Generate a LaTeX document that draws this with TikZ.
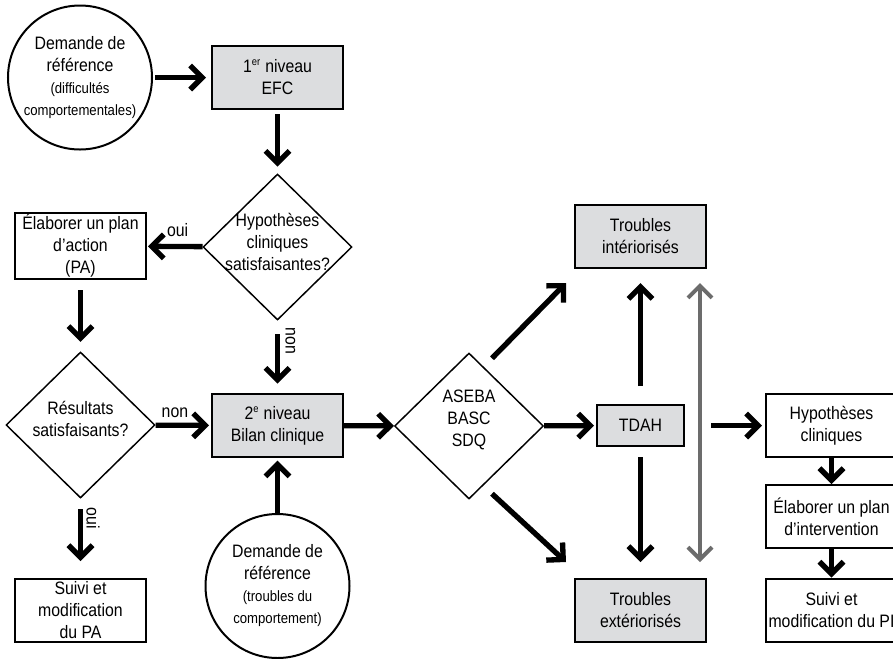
\documentclass[tikz,border=0pt]{standalone}
\usepackage{fontspec}
\setmainfont{Liberation Sans}[FakeStretch=0.88]
\usetikzlibrary{arrows.meta,shapes.geometric,calc}
\definecolor{boxgray}{RGB}{220,221,223}
\definecolor{arrgray}{RGB}{108,108,108}
\newcommand{\petit}{\fontsize{11.2}{13.5}\selectfont}
\newcommand{\expo}[1]{\textsuperscript{\fontsize{8}{8}\selectfont #1}}

\begin{document}
\begin{tikzpicture}[x=0.75pt,y=-0.75pt,
  every node/.style={font=\fontsize{13.5}{16.5}\selectfont},
  txt/.style={align=center,inner sep=0pt},
  rbox/.style={draw,line width=1.5pt,minimum width=98.25pt,minimum
  height=47.25pt,align=center,inner sep=1pt}, gbox/.style={rbox,fill=boxgray},
  rond/.style={draw,circle,line width=1.5pt,minimum size=108pt,inner sep=0pt,
  align=center}, dia/.style={draw,diamond,line width=1.1pt,minimum
  width=111.75pt,minimum height=109.5pt,inner sep=0pt},
  arr/.style={line width=4pt,-{Straight Barb[length=9pt,width=18pt]}},
  garr/.style={line width=3pt,arrgray,{Straight Barb[length=9pt,width=18pt]}-{Straight
  Barb[length=9pt,width=18pt]}}]
\useasboundingbox (0,0) rectangle (893,658);
\clip (0,0) rectangle (893,658);
% premier niveau
\node[rond] (dem1) at (80,77.5) {Demande de\\référence\\{\petit(difficultés}\\{\petit
comportementales)}};
\node[gbox] (efc) at (277.5,77.5) {1\expo{er} niveau\\EFC};
\node[dia] (hyp1) at (277.5,247) {};
\node[txt] (hyp1t) at (277.5,242) {Hypothèses\\cliniques\\satisfaisantes?};
\node[rbox] (pa) at (80.5,246) {Élaborer un plan\\d'action\\(PA)};
\node[dia] (res) at (80.5,425) {};
\node[txt] (rest) at (80.5,419) {Résultats\\satisfaisants?};
\node[rbox] (suivi) at (80.5,610.5) {Suivi et\\modification\\du PA};
% deuxieme niveau
\node[gbox] (bilan) at (277.5,425.5) {2\expo{e} niveau\\Bilan clinique};
\node[rond] (dem2) at (277.5,586) {Demande de\\référence\\{\petit(troubles du}\\{\petit
comportement)}};
\node[dia] (outils) at (469,426) {};
\node[txt] (outilst) at (469,420) {ASEBA\\BASC\\SDQ};
\node[gbox] (inter) at (640.5,236.5) {Troubles\\intériorisés};
\node[gbox,minimum width=65.25pt,minimum height=30.75pt] (tdah) at (640.5,425.5) {TDAH};
\node[gbox] (exter) at (640.5,610.5) {Troubles\\extériorisés};
\node[rbox] (hyp2) at (831.5,425.5) {Hypothèses\\cliniques};
\node[rbox] (plan) at (831.5,516.5) {Élaborer un plan\\d'intervention};
\node[rbox] (suivi2) at (831.5,610) {Suivi et\\modification du PI};
% fleches
\draw[arr,shorten <=1.5pt,shorten >=3.75pt] (dem1) -- (efc);
\draw[arr,shorten <=3pt,shorten >=5pt] (efc) -- (hyp1);
\draw[arr,shorten >=0.75pt] (hyp1) -- node[txt,above=5pt,pos=0.45] (oui1) {oui} (pa);
\draw[arr,shorten <=10pt,shorten >=7pt] (hyp1) -- node[txt,right=4pt,rotate=-90,pos=0.28,anchor=south]
(non1) {non} (bilan);
\draw[arr,shorten <=7.5pt,shorten >=7pt] (pa) -- (res);
\draw[arr,shorten >=1.5pt] (res) -- node[txt,above=4pt,pos=0.35] (non2) {non} (bilan);
\draw[arr,shorten <=8pt,shorten >=12.75pt] (res) -- node[txt,right=2.5pt,rotate=-90,pos=0.25,anchor=south]
(oui2) {oui} (suivi);
\draw[arr,shorten >=2pt] (dem2) -- (bilan);
\draw[arr] (bilan) -- (outils);
\draw[arr,shorten >=1.5pt] (outils) -- (tdah);
\draw[arr] ($(outils.north)+(23,6)$) -- ($(inter.south west)+(-8,14)$);
\draw[arr] ($(outils.south)+(23,-6)$) -- ($(exter.north west)+(-8,-16)$);
\draw[arr,shorten <=13.5pt,shorten >=10.5pt] (tdah) -- (inter);
\draw[arr,shorten <=7.5pt,shorten >=12pt] (tdah) -- (exter);
\draw[garr] ($(inter.south east)+(-7,14)$) -- ($(exter.north east)+(-7,-16)$);
\draw[arr,shorten <=19.5pt,shorten >=2.25pt] (tdah) -- (hyp2);
\draw[arr] (hyp2) -- (plan);
\draw[arr] (plan) -- (suivi2);
\end{tikzpicture}
\end{document}
